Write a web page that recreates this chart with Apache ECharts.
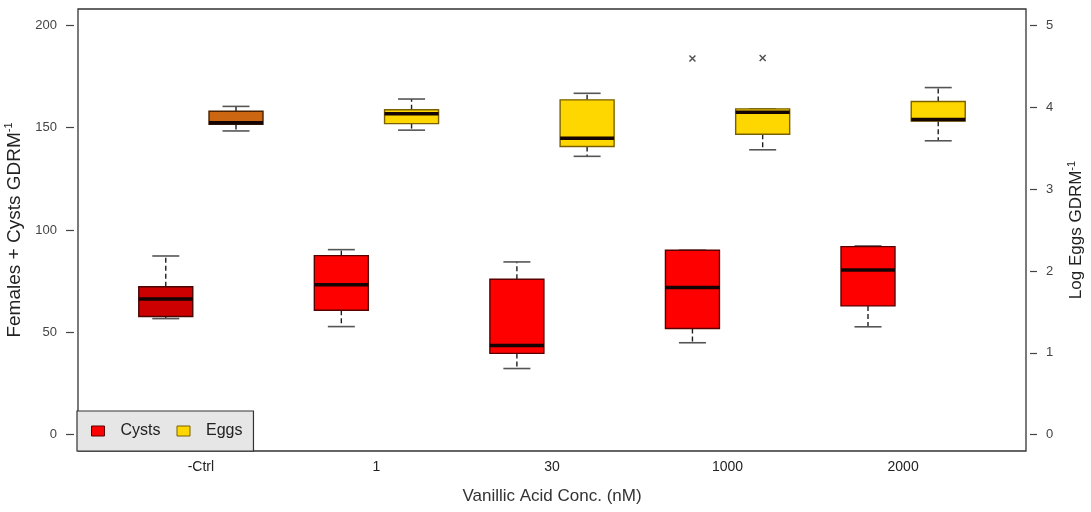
<!DOCTYPE html>
<html>
<head>
<meta charset="utf-8">
<script src="https://cdn.jsdelivr.net/npm/echarts@6/dist/echarts.min.js"></script>
<style>
  html, body { margin: 0; padding: 0; background: #ffffff; }
  #chart { width: 1091px; height: 512px; }
</style>
</head>
<body>
<div id="chart"></div>
<script>
// Treatments along the x axis
const categories = ['-Ctrl', '1', '30', '1000', '2000'];

// Five-number summaries per treatment: [min, Q1, median, Q3, max]
// Females + cysts per GDRM (left axis)
const cystsStats = [
  [56.7, 57.7, 66.3, 72.3, 87.3],
  [52.8, 60.8, 73.3, 87.5, 90.4],
  [32.3, 39.7, 43.6, 75.9, 84.4],
  [44.9, 51.9, 71.9, 90.1, 90.1],
  [52.7, 62.9, 80.5, 91.9, 92.2]
];
// Log eggs per GDRM (right axis)
const eggsStats = [
  [3.71, 3.79, 3.81, 3.95, 4.01],
  [3.72, 3.80, 3.92, 3.97, 4.10],
  [3.40, 3.52, 3.62, 4.09, 4.17],
  [3.48, 3.67, 3.94, 3.98, 3.98],
  [3.59, 3.83, 3.85, 4.07, 4.24]
];

// Points beyond the whiskers: [treatment index, value]
const cystsOutliers = [[3, 183.8]];
const eggsOutliers = [[3, 4.6]];

// Axis tick values
const leftTicks = [0, 50, 100, 150, 200];
const rightTicks = [0, 1, 2, 3, 4, 5];

// ---- drawing ----
const SHIFT = 0.2;        // side-by-side offset of the two boxes, in category units
const BOX_HALF = 27;      // half box width, px
const CAP_HALF = 13.5;    // half whisker cap width, px

const cystsFill = ['#cc0000', '#ff0000', '#ff0000', '#ff0000', '#ff0000'];
const eggsFill = ['#cd6611', '#ffd700', '#ffd700', '#ffd700', '#ffd700'];

function boxRenderer(fills, borders) {
  return function (params, api) {
    const xv = api.value(0);
    const pMin = api.coord([xv, api.value(1)]);
    const pQ1 = api.coord([xv, api.value(2)]);
    const pMed = api.coord([xv, api.value(3)]);
    const pQ3 = api.coord([xv, api.value(4)]);
    const pMax = api.coord([xv, api.value(5)]);
    const cx = pMed[0];
    const dash = { stroke: '#1e1e1e', lineWidth: 1.4, lineDash: [5, 3] };
    const cap = { stroke: '#555555', lineWidth: 1.6 };
    return {
      type: 'group',
      children: [
        { type: 'line', shape: { x1: cx, y1: pQ3[1], x2: cx, y2: pMax[1] }, style: dash },
        { type: 'line', shape: { x1: cx, y1: pQ1[1], x2: cx, y2: pMin[1] }, style: dash },
        { type: 'line', shape: { x1: cx - CAP_HALF, y1: pMax[1], x2: cx + CAP_HALF, y2: pMax[1] }, style: cap },
        { type: 'line', shape: { x1: cx - CAP_HALF, y1: pMin[1], x2: cx + CAP_HALF, y2: pMin[1] }, style: cap },
        {
          type: 'rect',
          shape: { x: cx - BOX_HALF, y: pQ3[1], width: BOX_HALF * 2, height: pQ1[1] - pQ3[1] },
          style: { fill: fills[params.dataIndex], stroke: borders[params.dataIndex], lineWidth: 1.4 }
        },
        {
          type: 'line',
          shape: { x1: cx - BOX_HALF, y1: pMed[1], x2: cx + BOX_HALF, y2: pMed[1] },
          style: { stroke: '#140404', lineWidth: 3.5 }
        }
      ]
    };
  };
}

const cystsData = cystsStats.map((s, i) => [i + 1 - SHIFT].concat(s));
const eggsData = eggsStats.map((s, i) => [i + 1 + SHIFT].concat(s));

const crossSymbol = 'path://M0,0L10,10M10,0L0,10';
const font = 'Liberation Sans, Arial, sans-serif';

const chart = echarts.init(document.getElementById('chart'), null, { renderer: 'canvas' });

chart.setOption({
  animation: false,
  backgroundColor: '#ffffff',
  textStyle: { fontFamily: font },
  grid: {
    left: 78, right: 65, top: 9, bottom: 61,
    containLabel: false,
    outerBoundsMode: 'none',
    show: true, borderColor: '#333333', borderWidth: 1.3, backgroundColor: 'transparent'
  },
  legend: {
    left: 77, top: 411,
    orient: 'horizontal',
    selectedMode: false,
    backgroundColor: '#e6e6e6',
    borderColor: '#333333',
    borderWidth: 1.2,
    padding: [12, 11, 12, 14],
    itemWidth: 13,
    itemHeight: 10,
    itemGap: 16,
    icon: 'rect',
    textStyle: { fontSize: 16, color: '#222222', fontFamily: font, padding: [0, 0, 0, 11] },
    data: [
      { name: 'Cysts', itemStyle: { color: '#ff0000', borderColor: '#5a0000', borderWidth: 1 } },
      { name: 'Eggs', itemStyle: { color: '#ffd700', borderColor: '#7a6000', borderWidth: 1 } }
    ]
  },
  xAxis: {
    type: 'value',
    min: 0.3, max: 5.7,
    axisLine: { show: false },
    axisTick: { show: false },
    splitLine: { show: false },
    axisLabel: {
      customValues: [1, 2, 3, 4, 5],
      formatter: v => categories[Math.round(v) - 1],
      fontSize: 14, color: '#222222', margin: 9, fontFamily: font
    },
    name: 'Vanillic Acid Conc. (nM)',
    nameLocation: 'middle',
    nameGap: 37,
    nameTextStyle: { fontSize: 17, color: '#333333', fontFamily: font }
  },
  yAxis: [
    {
      type: 'value',
      position: 'left',
      min: -8, max: 208,
      offset: 4,
      axisLine: { show: false },
      splitLine: { show: false },
      axisTick: { show: true, customValues: leftTicks, length: 8, lineStyle: { color: '#444444', width: 1.2 } },
      axisLabel: { customValues: leftTicks, fontSize: 13, color: '#444444', margin: 17, fontFamily: font },
      name: 'Females + Cysts GDRM{sup|-1}',
      nameLocation: 'middle',
      nameRotate: 90,
      nameGap: 45,
      nameTextStyle: {
        fontSize: 19, color: '#222222', fontFamily: font,
        rich: { sup: { fontSize: 11, color: '#222222', fontFamily: font, padding: [0, 0, 11, 0] } }
      }
    },
    {
      type: 'value',
      position: 'right',
      min: -0.2, max: 5.2,
      offset: 4,
      axisLine: { show: false },
      splitLine: { show: false },
      axisTick: { show: true, customValues: rightTicks, length: 7, lineStyle: { color: '#444444', width: 1.2 } },
      axisLabel: { customValues: rightTicks, fontSize: 13, color: '#444444', margin: 16, fontFamily: font },
      name: 'Log Eggs GDRM{sup|-1}',
      nameLocation: 'middle',
      nameRotate: 90,
      nameGap: 36,
      nameTextStyle: {
        fontSize: 17, color: '#222222', fontFamily: font,
        rich: { sup: { fontSize: 11, color: '#222222', fontFamily: font, padding: [0, 0, 10, 0] } }
      }
    }
  ],
  series: [
    {
      name: 'Cysts',
      type: 'custom',
      xAxisIndex: 0, yAxisIndex: 0,
      itemStyle: { color: '#ff0000' },
      encode: { x: 0, y: [1, 2, 3, 4, 5] },
      renderItem: boxRenderer(cystsFill, ['#4a0505', '#5a0000', '#5a0000', '#5a0000', '#5a0000']),
      data: cystsData
    },
    {
      name: 'Eggs',
      type: 'custom',
      xAxisIndex: 0, yAxisIndex: 1,
      itemStyle: { color: '#ffd700' },
      encode: { x: 0, y: [1, 2, 3, 4, 5] },
      renderItem: boxRenderer(eggsFill, ['#4a2200', '#7a6000', '#7a6000', '#7a6000', '#7a6000']),
      data: eggsData
    },
    {
      name: 'Cysts',
      type: 'scatter',
      yAxisIndex: 0,
      symbol: crossSymbol,
      symbolSize: 6,
      itemStyle: { color: 'transparent', borderColor: '#222222', borderWidth: 1.4 },
      data: cystsOutliers.map(([i, v]) => [i + 1 - SHIFT, v])
    },
    {
      name: 'Eggs',
      type: 'scatter',
      yAxisIndex: 1,
      symbol: crossSymbol,
      symbolSize: 6,
      itemStyle: { color: 'transparent', borderColor: '#222222', borderWidth: 1.4 },
      data: eggsOutliers.map(([i, v]) => [i + 1 + SHIFT, v])
    }
  ]
});
</script>
</body>
</html>
